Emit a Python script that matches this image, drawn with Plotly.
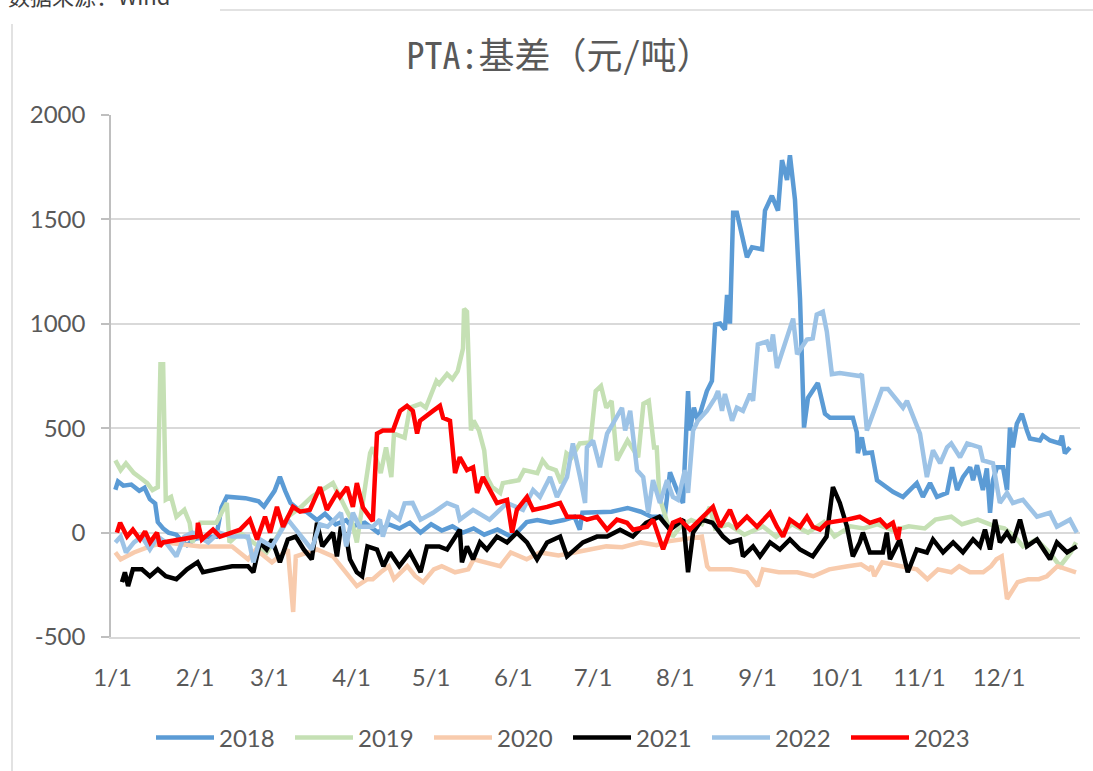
import plotly.graph_objects as go

# ---- data (day of year from 1/1, basis in 元/吨) ----
MONTH_TICKS = [0, 31, 59, 90, 120, 151, 181, 212, 243, 273, 304, 334]
MONTH_LABELS = ["1/1", "2/1", "3/1", "4/1", "5/1", "6/1", "7/1", "8/1", "9/1", "10/1", "11/1", "12/1"]
YEARS = ["2018", "2019", "2020", "2021", "2022", "2023"]
COLORS = ["#5B9BD5", "#C5E0B4", "#F8CBAD", "#000000", "#9DC3E6", "#FF0000"]

S2018 = [(1,205),(2,245),(4,225),(7,230),(10,200),(12,215),(14,160),(16,140),(17,50),(19,20),(21,0),(24,-10),(26,-40),(28,-60),(31,-30),(35,-20),(39,-20),(41,120),(43,172),(50,165),(55,150),(57,125),(61,200),(63,267),(65,200),(67,142),(70,110),(73,100),(77,60),(80,90),(84,40),(88,60),(90,30),(95,47),(100,0),(104,40),(108,20),(112,47),(116,0),(120,40),(124,10),(128,30),(132,0),(136,20),(140,-10),(145,15),(150,-19),(153,10),(156,50),(160,60),(165,47),(170,60),(174,76),(176,14),(177,95),(183,95),(188,100),(191,109),(194,118),(199,100),(203,76),(208,76),(210,289),(212.6,204),(214.9,142),(216.8,678),(217.5,489),(219,598),(220.5,536),(223.9,678),(225.8,726),(227,996),(228.9,1001),(230.7,972),(231.5,1138),(232.6,1001),(233.8,1532),(235.2,1532),(239,1319),(240.9,1366),(244.7,1357),(245.8,1542),(248.4,1613),(250.7,1542),(252.2,1784),(254.1,1689),(255.2,1807),(257.1,1594),(259,1120),(260.5,503),(262,645),(265.7,716),(268.4,569),(270.3,550),(278.9,550),(280.4,480),(280.8,380),(282.3,456),(283.4,380),(286.1,384),(288,251),(294,195),(297.8,171),(303,237),(305.3,171),(308,237),(310.6,171),(314.4,190),(316.3,313),(318.2,204),(320.4,266),(323.1,313),(324.2,251),(325.7,323),(327.9,204),(329.4,308),(330.6,95),(331.7,251),(333.2,313),(335.5,313),(337,204),(338.1,503),(339.2,408),(340.7,522),(342.6,569),(344.5,489),(345.6,451),(349.4,441),(350.5,465),(353.2,441),(356.9,427),(357.7,465),(358.8,380),(360.7,408)]

S2019 = [(1,346),(3,299),(5,332),(8,285),(10,266),(13,237),(15,204),(17,218),(18,806),(19,806),(20,157),(22,171),(24,76),(27,109),(29,47),(30,-47),(33,47),(39,47),(43,142),(44,-47),(48,0),(58,-95),(62,-19),(66,76),(71,123),(75,171),(83,237),(86,157),(90,60),(92,-47),(97,380),(98,408),(101,285),(103,408),(105,266),(106,474),(110,455),(112,598),(116,617),(118,598),(122,726),(123,712),(126,759),(128,735),(130,773),(132,882),(132.4,1072),(133.5,1058),(135,489),(136,536),(138,489),(140,394),(141,266),(143,218),(146,190),(147,237),(153,251),(155,299),(160,285),(162,346),(164,313),(167,299),(169,237),(171,380),(173,361),(176,427),(180,432),(182,678),(184,702),(186,598),(188,631),(190,346),(194,441),(198,361),(200,617),(202,631),(204,408),(205,408),(206,171),(209,47),(211,-19),(214,30),(218,60),(222,40),(225,123),(227,20),(232,40),(238,-10),(245,30),(250,-20),(256,40),(262,0),(268,50),(272,-19),(278,30),(283,20),(288,40),(294,10),(300,30),(306,20),(310,62),(316,76),(320,40),(326,62),(333,28),(336,20),(340,-20),(343,-66),(348,-33),(353,-95),(357,-161),(361,-95),(363,-47)]

S2020 = [(1,-95),(3,-128),(8,-95),(14,-66),(20,-47),(33,-66),(45,-66),(51,-128),(54,-81),(60,-142),(66,-81),(68,-380),(69,-114),(77,-81),(83,-114),(87,-176),(90,-223),(92,-256),(96,-223),(98,-223),(101,-190),(104,-161),(106,-223),(111,-161),(114,-209),(117,-237),(121,-176),(124,-161),(129,-190),(134,-176),(136,-128),(140,-142),(146,-161),(150,-95),(156,-128),(161,-95),(168,-110),(174,-95),(180,-80),(186,-66),(192,-70),(199,-47),(205,-60),(210,-40),(216,-30),(222,-19),(224,-161),(225,-176),(233,-176),(239,-190),(243,-256),(245,-176),(251,-190),(258,-190),(264,-209),(270,-176),(277,-161),(282,-152),(285,-176),(286,-161),(287,-209),(290,-142),(297,-161),(303,-176),(307,-223),(311,-176),(316,-190),(319,-161),(323,-190),(328,-190),(331,-161),(333,-128),(335,-114),(337,-318),(341,-237),(345,-223),(349,-223),(352,-209),(356,-161),(360,-176),(363,-190)]

S2021 = [(3.5,-237),(4.6,-190),(5.8,-256),(7.6,-176),(11,-176),(14,-209),(17,-176),(20,-209),(24,-223),(28,-176),(32,-142),(34,-190),(39,-176),(45,-161),(51,-161),(53,-190),(55.5,-47),(58,-81),(60,-33),(63,-142),(66,-33),(69,-19),(72,-81),(75,-128),(77,47),(79,-66),(83,0),(84.5,-114),(86,28),(88,-19),(89.4,-128),(92,-190),(94,-209),(96,-66),(99.6,-81),(102,-161),(104.5,-95),(108,-161),(112,-95),(116,-190),(118.4,-66),(123,-66),(126,-81),(130.8,14),(131.6,-142),(133.5,-66),(135.8,-128),(138.4,-47),(141,-81),(144.8,-19),(148.6,-47),(152.3,0),(156.1,-47),(159.9,-128),(163.7,-47),(168.6,-19),(171.2,-114),(177.2,-47),(182.5,-19),(186.3,-19),(191.2,14),(196,-19),(201,47),(206,76),(210,14),(215,62),(216.8,-190),(218.7,0),(222,62),(226,47),(230,-19),(232.6,-47),(236.4,-33),(237.5,-114),(241.3,-66),(243.9,-114),(247.7,-47),(251.4,-81),(255.2,-33),(259,-81),(263.8,-114),(269,-19),(271.4,218),(274,142),(276.7,28),(278.9,-114),(281.5,-47),(282.7,0),(285.3,-95),(290.2,-95),(291.7,0),(292.9,-128),(296.6,-33),(299.6,-190),(303,-81),(306.8,-95),(309.1,-33),(312.9,-95),(316.7,-47),(320.4,-95),(324.2,-33),(326.8,-66),(328.7,14),(330.6,-81),(332.5,62),(334.3,-47),(337,0),(339.2,-47),(341.9,62),(344.5,-66),(348.3,-33),(353.2,-128),(355.8,-47),(359.6,-95),(363.3,-66)]

S2022 = [(1,-47),(3,-19),(5,-95),(8,-47),(11,-19),(14,-81),(17,-19),(20,-47),(24,-114),(27,-19),(30,0),(36,-47),(40,0),(45,-19),(51,-19),(53,-142),(55.5,-33),(60,-66),(66,62),(71,-19),(75,-81),(78,40),(81,28),(86,95),(88,-66),(90.5,95),(93,28),(98,28),(100.7,62),(101.8,-19),(104.5,95),(108,62),(110,140),(113,142),(116,62),(120.7,95),(126,142),(129.7,123),(130.8,62),(135.8,109),(142,62),(148.6,142),(154.6,109),(158.4,204),(161,171),(164.8,266),(167.4,171),(171.2,266),(173.4,427),(176.1,266),(178,142),(178.7,408),(181,441),(183.6,313),(186.3,474),(188.5,522),(191.9,598),(193.1,489),(195,583),(197.6,299),(199.9,266),(201.8,95),(203.6,251),(206.2,142),(208.9,251),(211.1,171),(213,157),(215.6,299),(216.8,190),(218.7,489),(220.5,536),(223.9,583),(227,645),(228.1,678),(229.6,583),(230.7,664),(233.4,536),(235.2,598),(237.5,583),(240.2,664),(241.3,631),(243.1,901),(246.5,915),(247.7,868),(248.8,949),(250.3,788),(256.4,1025),(257.9,854),(261.6,925),(263.8,930),(265.3,1044),(267.6,1058),(269.1,963),(271,759),(274,764),(281.5,750),(282.3,759),(284.2,489),(289.9,688),(292.1,688),(294.8,645),(297.8,598),(299.3,631),(304.2,474),(306.8,266),(309.1,394),(311.8,332),(314.4,408),(316,427),(319.3,361),(322,427),(326.8,408),(327.9,346),(331.7,332),(334.3,142),(337,190),(339.2,142),(343,157),(348.3,76),(353.2,95),(355.8,28),(360.7,62),(363.3,0)]

S2023 = [(1.6,0),(2.8,47),(5.4,-19),(7.6,14),(10.3,-33),(12.2,5),(14.1,-47),(16.7,0),(17.8,-66),(19,-47),(31.8,-19),(32.1,47),(33.6,-33),(37.8,14),(40.4,-19),(45.3,0),(48,14),(51.7,62),(54.4,-33),(57.4,76),(59.3,0),(61.9,123),(64.2,28),(67.9,123),(70.6,100),(74.3,109),(78.1,218),(80.7,109),(84.5,190),(85.6,171),(88.3,218),(90.5,123),(92,237),(94.3,120),(98,55),(99.6,474),(101.8,489),(105.6,489),(108.3,583),(110.9,607),(113.1,583),(114.7,474),(115.8,536),(120.7,583),(123.3,607),(124.5,550),(127.1,536),(129,285),(130.8,361),(133.5,299),(135.8,313),(137.3,190),(139.5,266),(144.8,142),(148.6,157),(150.5,0),(152.3,109),(156.1,171),(158.4,109),(163.7,123),(168.6,142),(171.2,76),(176.1,76),(178.7,62),(182.5,76),(186.3,14),(190,62),(193.8,47),(196.1,14),(201.4,28),(203.6,62),(207.4,-80),(211.1,47),(213.8,62),(217.5,14),(221.3,62),(226.2,123),(228.9,28),(232.6,109),(235.2,28),(239,76),(242.8,28),(247.7,95),(250.3,28),(252.6,-19),(255.2,62),(259,28),(261.6,76),(263.8,28),(266.5,14),(269.1,47),(276.7,62),(281.5,76),(285.3,47),(289.1,62),(291.7,28),(294,47),(295.9,-33),(296.6,28)]

SERIES = [S2018, S2019, S2020, S2021, S2022, S2023]

# ---- figure ----
W, H = 1093, 771
L, R, T, B = 111, 13, 115, 134
PW, PH = W - L - R, H - T - B

def px(x):
    return (x - L) / PW

def py(y):
    return (H - B - y) / PH

TEXT = "#595959"
TICKFONT = dict(family="Lato, Open Sans, sans-serif", size=24, color=TEXT)

fig = go.Figure()
for name, color, pts in zip(YEARS, COLORS, SERIES):
    fig.add_trace(go.Scatter(
        x=[p[0] for p in pts], y=[p[1] for p in pts],
        mode="lines", name=name,
        line=dict(color=color, width=4.5),
        hoverinfo="skip",
    ))

fig.update_layout(
    width=W, height=H,
    margin=dict(l=L, r=R, t=T, b=B, autoexpand=False),
    paper_bgcolor="white", plot_bgcolor="white",
    showlegend=True,
    title=dict(text="PTA:基差（元/吨）", x=0.512, xref="container", xanchor="center",
               y=1 - 56 / H, yref="container", yanchor="middle",
               font=dict(family="Noto Sans Mono CJK SC, Noto Sans CJK SC", size=36, color=TEXT)),
    legend=dict(orientation="h", x=px(568), xanchor="center", y=py(738), yanchor="middle",
                font=TICKFONT, itemwidth=58, entrywidth=66, entrywidthmode="pixels",
                bgcolor="rgba(0,0,0,0)"),
    xaxis=dict(range=[-0.64, 364.5], tickmode="array", tickvals=MONTH_TICKS, ticktext=MONTH_LABELS,
               showgrid=False, zeroline=False, showline=True, linecolor="#D9D9D9", linewidth=1.5,
               ticks="", tickfont=TICKFONT, ticklabelstandoff=18, fixedrange=True),
    yaxis=dict(range=[-500, 2000], tickmode="array", tickvals=[-500, 0, 500, 1000, 1500, 2000],
               ticktext=["-500", "0", "500", "1000", "1500", "2000"],
               showgrid=True, gridcolor="#D9D9D9", gridwidth=1.5, zeroline=False,
               showline=True, linecolor="#BFBFBF", linewidth=1.5,
               ticks="outside", ticklen=8, tickcolor="#BFBFBF", tickwidth=1.5,
               tickfont=TICKFONT, ticklabelstandoff=11, fixedrange=True),
    shapes=[
        dict(type="line", xref="paper", yref="paper", x0=px(12), x1=px(12), y0=py(24), y1=py(771),
             line=dict(color="#D9D9D9", width=1.5)),
        dict(type="line", xref="paper", yref="paper", x0=px(220), x1=px(1093), y0=py(10), y1=py(10),
             line=dict(color="#D9D9D9", width=1.5)),
    ],
    annotations=[
        dict(text="数据来源：Wind", xref="paper", yref="paper", x=px(6), y=py(-5),
             xanchor="left", yanchor="middle", showarrow=False,
             font=dict(family="Noto Sans CJK SC", size=22, color="#404040")),
    ],
)

fig.write_html("out.html", config={"displayModeBar": False},
               post_script="document.body.style.margin='0';")
